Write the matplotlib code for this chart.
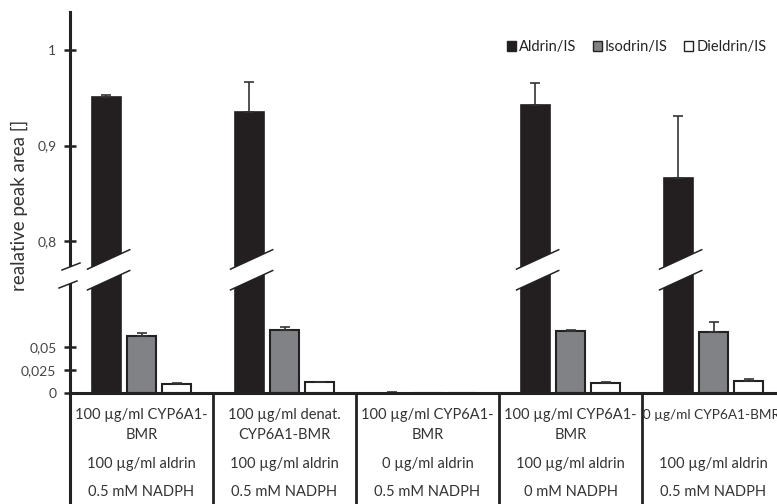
import matplotlib.pyplot as plt
import numpy as np
from matplotlib.patches import Patch, Polygon
from matplotlib.transforms import blended_transform_factory, Bbox, TransformedBbox

plt.rcParams['font.family'] = ['Lato', 'DejaVu Sans']

# data
ALDRIN = [0.951, 0.935, 0.0005, 0.942, 0.866]
ALDRIN_ERR = [0.002, 0.032, 0.001, 0.023, 0.065]
ISODRIN = [0.062, 0.068, 0.0, 0.067, 0.066]
ISODRIN_ERR = [0.003, 0.004, 0.0, 0.001, 0.011]
DIELDRIN = [0.0095, 0.012, 0.0, 0.011, 0.0134]
DIELDRIN_ERR = [0.001, 0.0005, 0.0, 0.0007, 0.0015]

ENZYME = ["100 µg/ml CYP6A1-\nBMR", "100 µg/ml denat.\nCYP6A1-BMR",
          "100 µg/ml CYP6A1-\nBMR", "100 µg/ml CYP6A1-\nBMR",
          "100 µg/ml CYP6A1-BMR"]
SUBSTRATE = ["100 µg/ml aldrin", "100 µg/ml aldrin", "0 µg/ml aldrin",
             "100 µg/ml aldrin", "100 µg/ml aldrin"]
COFACTOR = ["0.5 mM NADPH", "0.5 mM NADPH", "0.5 mM NADPH",
            "0 mM NADPH", "0.5 mM NADPH"]

YTICKS = [0, 0.025, 0.05, 0.8, 0.9, 1]
YTICKLABELS = ["0", "0,025", "0,05", "0,8", "0,9", "1"]

# broken y axis: piecewise linear scale
BRK_V = [-1, 0, 0.12, 0.77, 2]
BRK_P = [-920, 0, 110.4, 123.35, 1298.35]


def fwd(v):
    return np.interp(v, BRK_V, BRK_P)


def inv(p):
    return np.interp(p, BRK_P, BRK_V)


DARK = "#222222"
W, H = 777, 504

fig = plt.figure(figsize=(W / 100, H / 100), dpi=100)
ax = fig.add_axes([70 / W, 111 / H, 707 / W, 381 / H])
ax.set_yscale("function", functions=(fwd, inv))

x = np.arange(len(ALDRIN))
width = 0.205
off = 0.245
zeros = np.zeros(len(x))
ekw = dict(ecolor="#333333", elinewidth=1.2, capsize=3.5, capthick=1.2)

ax.bar(x - off, ALDRIN, width, color="#231f20", edgecolor="#231f20", lw=1.2,
       yerr=[zeros, ALDRIN_ERR], error_kw=ekw)
ax.bar(x, ISODRIN, width, color="#808285", edgecolor=DARK, lw=1.5,
       yerr=[zeros, ISODRIN_ERR], error_kw=ekw)
ax.bar(x + off, DIELDRIN, width, color="white", edgecolor=DARK, lw=1.5,
       yerr=[zeros, DIELDRIN_ERR], error_kw=ekw)

ax.set_xlim(-0.5, -0.5 + 707 / 143)
ax.set_ylim(0, 1.0398)
ax.set_xticks([])
ax.set_yticks(YTICKS)
ax.set_yticklabels(YTICKLABELS)
ax.minorticks_off()
for s in ["top", "right"]:
    ax.spines[s].set_visible(False)
for s in ["left", "bottom"]:
    ax.spines[s].set_linewidth(2.2)
    ax.spines[s].set_color(DARK)
ax.tick_params(axis="y", direction="inout", length=8.6, width=1.8, color=DARK,
               labelsize=10, labelcolor="#444444", pad=5.5)

ax.set_ylabel("realative peak area []", fontsize=13.5, color="#333333")
ax.yaxis.set_label_coords(-0.059, 0.493)

# legend
handles = [Patch(facecolor="#231f20", edgecolor=DARK, label="Aldrin/IS"),
           Patch(facecolor="#808285", edgecolor=DARK, label="Isodrin/IS"),
           Patch(facecolor="white", edgecolor=DARK, label="Dieldrin/IS")]
ax.legend(handles=handles, loc="center right", bbox_to_anchor=(0.985, 0.908),
          ncol=3, frameon=False, fontsize=10.5, handlelength=0.62,
          handleheight=0.62, handletextpad=0.2, columnspacing=1.15,
          borderpad=0, borderaxespad=0, labelcolor="#222222")

# table under the axis
blend = blended_transform_factory(ax.transData, ax.transAxes)
for b in np.arange(-0.5, 4.0, 1.0):
    ax.plot([b, b], [0, -0.3], transform=blend, clip_on=False, color=DARK,
            lw=2 if b > -0.5 else 2.2, solid_capstyle="butt")


def ya(py):
    return (393 - py) / 381


clip = TransformedBbox(Bbox([[3.5, -0.3], [4.5, 0]]), blend)
for i in x:
    lines = ENZYME[i].split("\n")
    rows = [(lines[0], 415)]
    if len(lines) > 1:
        rows.append((lines[1], 435))
    rows += [(SUBSTRATE[i], 464), (COFACTOR[i], 492)]
    for j, (txt, py) in enumerate(rows):
        if i == 4 and j == 0:
            # the last enzyme label is wider than its cell and gets cut
            t = ax.text(4.465, ya(py), txt, transform=blend, ha="right",
                        va="center", fontsize=9.8, color="#333333",
                        clip_on=True)
            t.set_clip_box(clip)
        else:
            ax.text(i, ya(py), txt, transform=blend, ha="center", va="center",
                    fontsize=10.5, color="#333333", clip_on=False)

# break bands on the tall bars
slope = 0.46 * 143 / 381
yc, hh = ya(270.8), 10.4 / 381
for i in x:
    if ALDRIN[i] < 0.5:
        continue
    xc = i - off
    xl, xr = xc - width / 2 - 0.03, xc + width / 2 + 0.06
    up = [(xl, yc + slope * (xl - xc) + hh), (xr, yc + slope * (xr - xc) + hh)]
    lo = [(xl, yc + slope * (xl - xc) - hh), (xr, yc + slope * (xr - xc) - hh)]
    ax.add_patch(Polygon(up + lo[::-1], closed=True, facecolor="white",
                         edgecolor="none", transform=blend, clip_on=False,
                         zorder=5))
    for seg in (up, lo):
        ax.plot([p[0] for p in seg], [p[1] for p in seg], transform=blend,
                color=DARK, lw=1.1, clip_on=False, zorder=6)


# break on the y axis
def xa(px):
    return (px - 70) / 707


up = [(xa(62), ya(270)), (xa(80), ya(263))]
lo = [(xa(59), ya(288)), (xa(77), ya(281))]
ax.add_patch(Polygon(up + lo[::-1], closed=True, facecolor="white",
                     edgecolor="none", transform=ax.transAxes, clip_on=False,
                     zorder=5))
for seg in (up, lo):
    ax.plot([p[0] for p in seg], [p[1] for p in seg], transform=ax.transAxes,
            color=DARK, lw=1.1, clip_on=False, zorder=6)

fig.savefig("out.png", dpi=100, facecolor="white")
